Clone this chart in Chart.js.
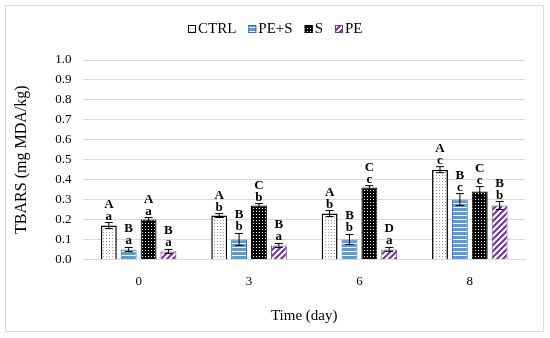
<!DOCTYPE html>
<html><head><meta charset="utf-8">
<script src="https://cdn.jsdelivr.net/npm/chart.js@4"></script>
<style>
html,body{margin:0;padding:0;background:#fff;}
#wrap{position:relative;width:550px;height:338px;}
#frame{position:absolute;left:5px;top:5px;width:537px;height:325px;border:1px solid #d9d9d9;pointer-events:none;}
canvas{position:absolute;left:0;top:0;}
</style></head><body>
<div id="wrap"><canvas id="c" width="550" height="338"></canvas><div id="frame"></div></div>
<script>
const categories = ["0","3","6","8"];
const seriesNames = ["CTRL","PE+S","S","PE"];
const ctrlValues = [0.17,0.22,0.23,0.45];
const pesValues  = [0.05,0.10,0.10,0.30];
const sValues    = [0.20,0.27,0.36,0.34];
const peValues   = [0.04,0.07,0.05,0.27];
const ctrlErr = [0.015,0.010,0.015,0.015];
const pesErr  = [0.010,0.030,0.025,0.030];
const sErr    = [0.010,0.010,0.010,0.025];
const peErr   = [0.010,0.010,0.010,0.020];
const ctrlUpper = ["A","A","A","A"], ctrlLower = ["a","b","b","c"];
const pesUpper  = ["B","B","B","B"], pesLower  = ["a","b","b","c"];
const sUpper    = ["A","C","C","C"], sLower    = ["a","b","c","c"];
const peUpper   = ["B","B","D","B"], peLower   = ["a","a","a","b"];
const yTicks = [0,0.1,0.2,0.3,0.4,0.5,0.6,0.7,0.8,0.9,1.0];

function makePattern(w,h,draw){
  const c=document.createElement('canvas');c.width=w;c.height=h;
  const x=c.getContext('2d');draw(x);
  return document.getElementById('c').getContext('2d').createPattern(c,'repeat');
}
const patCtrl = makePattern(3,3,x=>{x.fillStyle='#fff';x.fillRect(0,0,3,3);x.fillStyle='#9a9a9a';x.fillRect(1,1,1,1);});
const patPes = makePattern(4,4,x=>{x.fillStyle='#5b9bd5';x.fillRect(0,0,4,4);x.fillStyle='#ffffff';x.fillRect(0,3,4,1);});
const patS = makePattern(3,3,x=>{x.fillStyle='#000';x.fillRect(0,0,3,3);x.fillStyle='#fff';x.fillRect(1,1,1,1);});
const patPe = makePattern(6,6,x=>{x.fillStyle='#fff';x.fillRect(0,0,6,6);x.strokeStyle='#7030a0';x.lineWidth=2;
  x.beginPath();x.moveTo(-1,7);x.lineTo(7,-1);x.moveTo(-4,4);x.lineTo(4,-4);x.moveTo(2,10);x.lineTo(10,2);x.stroke();});

const errs=[ctrlErr,pesErr,sErr,peErr];
const uppers=[ctrlUpper,pesUpper,sUpper,peUpper];
const lowers=[ctrlLower,pesLower,sLower,peLower];
const FONT='"Liberation Serif", "DejaVu Serif", serif';

const annot={id:'annot',afterDatasetsDraw(chart){
  const ctx=chart.ctx, y=chart.scales.y;
  chart.data.datasets.forEach((ds,di)=>{
    const meta=chart.getDatasetMeta(di);
    meta.data.forEach((bar,i)=>{
      const v=ds.data[i], e=errs[di][i];
      const yt=y.getPixelForValue(v+e), yb=y.getPixelForValue(v-e), x=bar.x;
      ctx.save();ctx.strokeStyle='#000';ctx.lineWidth=1;
      ctx.beginPath();ctx.moveTo(x,yt);ctx.lineTo(x,yb);
      ctx.moveTo(x-4,yt);ctx.lineTo(x+4,yt);ctx.moveTo(x-4,yb);ctx.lineTo(x+4,yb);ctx.stroke();
      ctx.fillStyle='#000';ctx.textAlign='center';ctx.textBaseline='alphabetic';
      ctx.font='bold 13px '+FONT;
      ctx.fillText(lowers[di][i],x,yt-3);
      ctx.fillText(uppers[di][i],x,yt-15);
      ctx.restore();
    });
  });
}};
const customLegend={id:'customLegend',afterDraw(chart){
  const ctx=chart.ctx; ctx.save();
  ctx.font='15px '+FONT; ctx.textBaseline='middle'; ctx.textAlign='left';
  const box=8, gap=2, sep=12, cy=29;
  const items=chart.data.datasets.map(d=>({ds:d,w:box+gap+ctx.measureText(d.label).width}));
  const total=items.reduce((s,it)=>s+it.w,0)+sep*(items.length-1);
  let x=Math.round(chart.width/2-total/2);
  items.forEach(it=>{
    ctx.fillStyle=it.ds.backgroundColor; ctx.fillRect(x,cy-box/2,box,box);
    ctx.strokeStyle=it.ds.borderColor; ctx.lineWidth=1; ctx.strokeRect(x+0.5,cy-box/2+0.5,box-1,box-1);
    ctx.fillStyle='#000'; ctx.fillText(it.ds.label,x+box+gap,cy);
    x+=it.w+sep;
  });
  ctx.restore();
}};

new Chart(document.getElementById('c'),{
  type:'bar',
  data:{labels:categories,datasets:[
    {label:seriesNames[0],data:ctrlValues,backgroundColor:patCtrl,borderColor:'#000',borderWidth:1.5},
    {label:seriesNames[1],data:pesValues,backgroundColor:patPes,borderColor:'#2e75b6',borderWidth:1},
    {label:seriesNames[2],data:sValues,backgroundColor:patS,borderColor:'#000',borderWidth:1},
    {label:seriesNames[3],data:peValues,backgroundColor:patPe,borderColor:'#7030a0',borderWidth:1}
  ]},
  options:{
    responsive:false,animation:false,
    categoryPercentage:0.72,barPercentage:0.8,
    layout:{padding:{left:8,right:25,top:60,bottom:9}},
    plugins:{
      legend:{display:false},
      tooltip:{enabled:false}
    },
    scales:{
      x:{grid:{display:false},border:{color:'#d9d9d9'},
        ticks:{color:'#000',font:{family:FONT,size:13},padding:6},
        title:{display:true,text:'Time (day)',color:'#000',font:{family:FONT,size:15},padding:{top:12}}},
      y:{min:0,max:1.0,afterBuildTicks(s){s.ticks=yTicks.map(v=>({value:v}));},
        grid:{color:'#d9d9d9',drawTicks:false},border:{display:false},
        ticks:{color:'#000',font:{family:FONT,size:13},padding:12,callback:v=>v.toFixed(1)},
        title:{display:true,text:'TBARS (mg MDA/kg)',color:'#000',font:{family:FONT,size:16},padding:{bottom:12}}}
    }
  },
  plugins:[annot,customLegend]
});
</script></body></html>
